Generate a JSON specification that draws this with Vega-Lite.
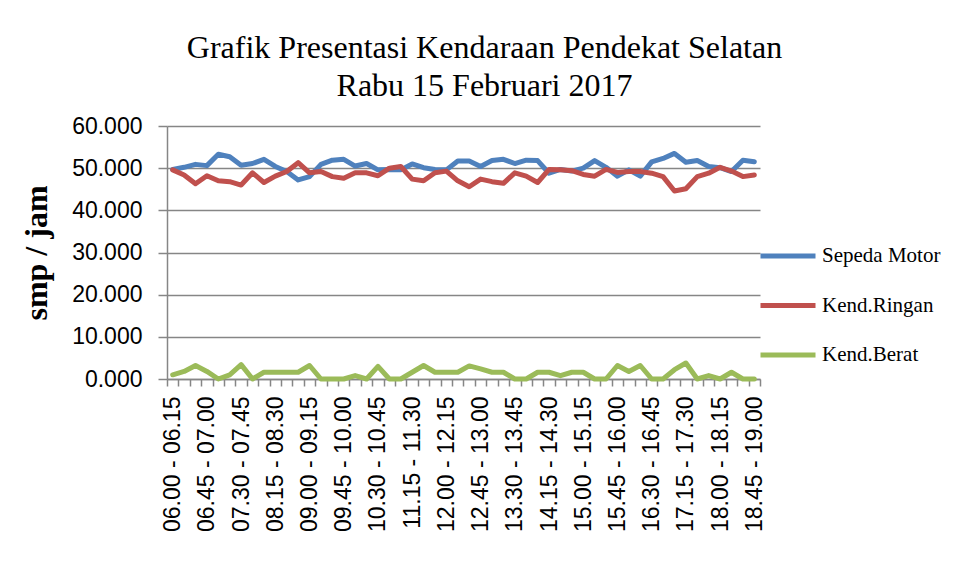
{
  "$schema": "https://vega.github.io/schema/vega-lite/v6.json",
  "autosize": {"type": "none"},
  "width": 593,
  "height": 253,
  "padding": {"left": 167, "top": 126, "right": 203, "bottom": 206},
  "background": "white",
  "config": {"view": {"stroke": null}},
  "title": {
    "text": ["Grafik Presentasi Kendaraan Pendekat Selatan", "Rabu 15 Februari 2017"],
    "font": "Liberation Serif",
    "fontSize": 32,
    "fontWeight": "normal",
    "color": "black",
    "lineHeight": 38,
    "anchor": "middle",
    "dx": 21,
    "offset": 12
  },
  "data": {
    "values": [
      {"t": "06.00 - 06.15", "motor": 49.7, "ringan": 49.6, "berat": 1.0},
      {"t": "06.15 - 06.30", "motor": 50.2, "ringan": 48.4, "berat": 1.8},
      {"t": "06.30 - 06.45", "motor": 50.9, "ringan": 46.3, "berat": 3.2},
      {"t": "06.45 - 07.00", "motor": 50.6, "ringan": 48.2, "berat": 1.8},
      {"t": "07.00 - 07.15", "motor": 53.3, "ringan": 47.0, "berat": 0.0},
      {"t": "07.15 - 07.30", "motor": 52.7, "ringan": 46.8, "berat": 1.0},
      {"t": "07.30 - 07.45", "motor": 50.7, "ringan": 46.0, "berat": 3.4},
      {"t": "07.45 - 08.00", "motor": 51.1, "ringan": 48.9, "berat": 0.0},
      {"t": "08.00 - 08.15", "motor": 52.1, "ringan": 46.6, "berat": 1.6},
      {"t": "08.15 - 08.30", "motor": 50.4, "ringan": 48.1, "berat": 1.6},
      {"t": "08.30 - 08.45", "motor": 49.2, "ringan": 49.2, "berat": 1.6},
      {"t": "08.45 - 09.00", "motor": 47.2, "ringan": 51.3, "berat": 1.6},
      {"t": "09.00 - 09.15", "motor": 48.0, "ringan": 48.9, "berat": 3.2},
      {"t": "09.15 - 09.30", "motor": 50.9, "ringan": 49.2, "berat": 0.0},
      {"t": "09.30 - 09.45", "motor": 51.9, "ringan": 48.0, "berat": 0.0},
      {"t": "09.45 - 10.00", "motor": 52.1, "ringan": 47.6, "berat": 0.0},
      {"t": "10.00 - 10.15", "motor": 50.5, "ringan": 48.9, "berat": 0.8},
      {"t": "10.15 - 10.30", "motor": 51.1, "ringan": 48.9, "berat": 0.0},
      {"t": "10.30 - 10.45", "motor": 49.6, "ringan": 48.2, "berat": 3.0},
      {"t": "10.45 - 11.00", "motor": 49.7, "ringan": 50.0, "berat": 0.0},
      {"t": "11.00 - 11.15", "motor": 49.6, "ringan": 50.4, "berat": 0.0},
      {"t": "11.15 - 11.30", "motor": 51.0, "ringan": 47.4, "berat": 1.6},
      {"t": "11.30 - 11.45", "motor": 50.1, "ringan": 47.0, "berat": 3.2},
      {"t": "11.45 - 12.00", "motor": 49.7, "ringan": 48.9, "berat": 1.6},
      {"t": "12.00 - 12.15", "motor": 49.6, "ringan": 49.3, "berat": 1.6},
      {"t": "12.15 - 12.30", "motor": 51.7, "ringan": 47.0, "berat": 1.6},
      {"t": "12.30 - 12.45", "motor": 51.7, "ringan": 45.6, "berat": 3.1},
      {"t": "12.45 - 13.00", "motor": 50.4, "ringan": 47.4, "berat": 2.4},
      {"t": "13.00 - 13.15", "motor": 51.8, "ringan": 46.8, "berat": 1.6},
      {"t": "13.15 - 13.30", "motor": 52.1, "ringan": 46.4, "berat": 1.6},
      {"t": "13.30 - 13.45", "motor": 51.1, "ringan": 48.9, "berat": 0.0},
      {"t": "13.45 - 14.00", "motor": 51.9, "ringan": 48.1, "berat": 0.0},
      {"t": "14.00 - 14.15", "motor": 51.8, "ringan": 46.6, "berat": 1.6},
      {"t": "14.15 - 14.30", "motor": 48.8, "ringan": 49.7, "berat": 1.6},
      {"t": "14.30 - 14.45", "motor": 49.7, "ringan": 49.6, "berat": 0.8},
      {"t": "14.45 - 15.00", "motor": 49.3, "ringan": 49.4, "berat": 1.6},
      {"t": "15.00 - 15.15", "motor": 50.0, "ringan": 48.5, "berat": 1.6},
      {"t": "15.15 - 15.30", "motor": 51.8, "ringan": 48.1, "berat": 0.0},
      {"t": "15.30 - 15.45", "motor": 50.2, "ringan": 49.7, "berat": 0.0},
      {"t": "15.45 - 16.00", "motor": 48.1, "ringan": 49.0, "berat": 3.2},
      {"t": "16.00 - 16.15", "motor": 49.6, "ringan": 49.2, "berat": 1.8},
      {"t": "16.15 - 16.30", "motor": 48.1, "ringan": 49.2, "berat": 3.2},
      {"t": "16.30 - 16.45", "motor": 51.5, "ringan": 48.8, "berat": 0.0},
      {"t": "16.45 - 17.00", "motor": 52.3, "ringan": 48.0, "berat": 0.0},
      {"t": "17.00 - 17.15", "motor": 53.5, "ringan": 44.6, "berat": 2.2},
      {"t": "17.15 - 17.30", "motor": 51.4, "ringan": 45.1, "berat": 3.8},
      {"t": "17.30 - 17.45", "motor": 51.8, "ringan": 48.0, "berat": 0.0},
      {"t": "17.45 - 18.00", "motor": 50.4, "ringan": 48.8, "berat": 0.8},
      {"t": "18.00 - 18.15", "motor": 50.1, "ringan": 50.2, "berat": 0.0},
      {"t": "18.15 - 18.30", "motor": 49.2, "ringan": 49.3, "berat": 1.6},
      {"t": "18.30 - 18.45", "motor": 51.9, "ringan": 48.0, "berat": 0.0},
      {"t": "18.45 - 19.00", "motor": 51.5, "ringan": 48.4, "berat": 0.0}
    ]
  },
  "transform": [
    {"fold": ["motor", "ringan", "berat"], "as": ["series", "value"]}
  ],
  "mark": {"type": "line", "strokeWidth": 5, "strokeJoin": "round", "strokeCap": "round"},
  "encoding": {
    "x": {
      "field": "t",
      "type": "nominal",
      "sort": null,
      "scale": {"type": "band", "paddingInner": 0, "paddingOuter": 0},
      "axis": {
        "title": null,
        "labelAngle": -90,
        "labelExpr": "((toNumber(substring(datum.value,0,2))-6)*4 + toNumber(substring(datum.value,3,5))/15) % 3 == 0 ? datum.value : ''",
        "labelOverlap": false,
        "labelFont": "Liberation Sans",
        "labelFontSize": 23,
        "labelColor": "black",
        "labelPadding": 10,
        "tickBand": "extent",
        "tickSize": 7,
        "tickColor": "#868686",
        "tickWidth": 1.5,
        "domainColor": "#868686",
        "domainWidth": 1.5,
        "grid": false
      }
    },
    "y": {
      "field": "value",
      "type": "quantitative",
      "scale": {"domain": [0, 60], "nice": false},
      "axis": {
        "title": "smp / jam",
        "titleFont": "Liberation Serif",
        "titleFontSize": 32,
        "titleFontWeight": "bold",
        "titleColor": "black",
        "titlePadding": 18,
        "values": [0, 10, 20, 30, 40, 50, 60],
        "format": ".3f",
        "labelFont": "Liberation Sans",
        "labelFontSize": 23,
        "labelColor": "black",
        "labelPadding": 16,
        "tickSize": 9,
        "tickColor": "#868686",
        "tickWidth": 1.5,
        "domainColor": "#868686",
        "domainWidth": 1.5,
        "grid": true,
        "gridColor": "#868686",
        "gridWidth": 1.5
      }
    },
    "color": {
      "field": "series",
      "type": "nominal",
      "scale": {
        "domain": ["motor", "ringan", "berat"],
        "range": ["#4F81BD", "#C0504D", "#9BBB59"]
      },
      "legend": {
        "title": null,
        "orient": "none",
        "legendX": 591,
        "legendY": 120,
        "padding": 0,
        "labelExpr": "datum.label == 'motor' ? 'Sepeda Motor' : datum.label == 'ringan' ? 'Kend.Ringan' : 'Kend.Berat'",
        "symbolType": "stroke",
        "symbolSize": 3025,
        "symbolStrokeWidth": 5,
        "labelFont": "Liberation Serif",
        "labelFontSize": 21,
        "labelColor": "black",
        "labelOffset": 4,
        "clipHeight": 20,
        "rowPadding": 28.5
      }
    }
  }
}
